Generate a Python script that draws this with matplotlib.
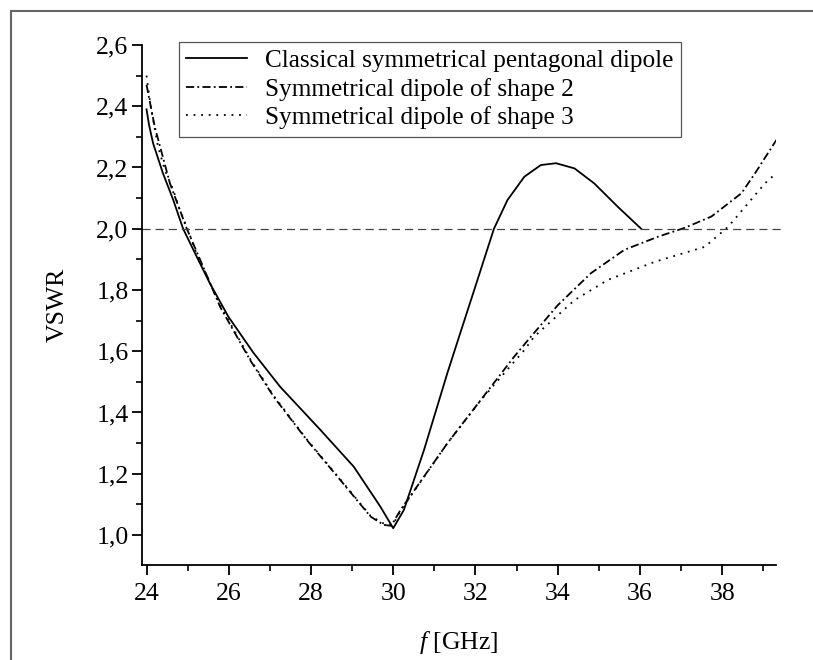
import matplotlib.pyplot as plt
from matplotlib.ticker import MultipleLocator, FuncFormatter
from matplotlib.lines import Line2D

plt.rcParams['font.family'] = 'Liberation Serif'
plt.rcParams['mathtext.fontset'] = 'custom'
plt.rcParams['mathtext.it'] = 'Liberation Serif:italic'
plt.rcParams['mathtext.rm'] = 'Liberation Serif'

# Classical symmetrical pentagonal dipole
f_classic = [24.0, 24.06, 24.16, 24.40, 24.65, 24.89, 25.22, 25.54, 25.99, 26.6,
             27.25, 28.23, 29.04, 29.69, 30.0, 30.26, 30.75, 31.32, 31.56, 31.97,
             32.45, 32.78, 33.19, 33.59, 33.96, 34.41, 34.89, 35.46, 36.03]
v_classic = [2.39, 2.34, 2.279, 2.181, 2.094, 2.0, 1.909, 1.822, 1.713, 1.595,
             1.484, 1.343, 1.223, 1.092, 1.022, 1.082, 1.278, 1.53, 1.63, 1.80,
             2.0, 2.094, 2.17, 2.208, 2.214, 2.197, 2.148, 2.072, 2.0]

# Symmetrical dipole of shape 2
f_shape2 = [24.0, 24.20, 24.57, 24.98, 25.3, 25.79, 26.52, 27.09, 27.90, 28.71,
            29.45, 29.77, 29.95, 30.18, 31.32, 32.13, 32.94, 33.27, 34.0, 34.81,
            35.62, 36.44, 37.09, 37.74, 38.47, 38.80, 39.32]
v_shape2 = [2.47, 2.333, 2.148, 2.0, 1.90, 1.745, 1.571, 1.452, 1.310, 1.180,
            1.06, 1.033, 1.03, 1.082, 1.30, 1.441, 1.582, 1.635, 1.75, 1.855,
            1.931, 1.974, 2.003, 2.04, 2.116, 2.181, 2.29]

# Symmetrical dipole of shape 3
f_shape3 = [24.0, 24.1, 24.28, 24.45, 24.65, 24.81, 25.01, 25.18, 25.79, 26.52,
            27.09, 27.90, 28.71, 29.45, 29.8, 30.0, 30.18, 31.32, 32.13, 33.19,
            33.43, 34.41, 35.22, 36.36, 37.58, 38.15, 38.63, 39.04, 39.35]
v_shape3 = [2.50, 2.40, 2.268, 2.19, 2.127, 2.061, 1.996, 1.931, 1.75, 1.575,
            1.455, 1.312, 1.182, 1.062, 1.035, 1.035, 1.08, 1.30, 1.44, 1.604,
            1.648, 1.767, 1.833, 1.892, 1.941, 2.007, 2.083, 2.148, 2.186]

labels = ['Classical symmetrical pentagonal dipole',
          'Symmetrical dipole of shape 2',
          'Symmetrical dipole of shape 3']
vswr_limit = 2.0

fig = plt.figure(figsize=(8.13, 6.6), dpi=100)
ax = fig.add_axes([142 / 813, 1 - 565 / 660, 634 / 813, 520 / 660])

lw = 1.3
ax.plot(f_classic, v_classic, color='black', lw=lw, label=labels[0])
ax.plot(f_shape2, v_shape2, color='black', lw=lw, dashes=(4.5, 1.8, 1.0, 1.8), label=labels[1])
ax.plot(f_shape3, v_shape3, color='black', lw=lw, dashes=(1.0, 3.2), label=labels[2])
ax.axhline(vswr_limit, xmin=0, xmax=1.011, color='#444444', lw=0.9,
           dashes=(6.5, 4), clip_on=False)

ax.set_xlim(23.89, 39.31)
ax.set_ylim(0.902, 2.6)
ax.spines['top'].set_visible(False)
ax.spines['right'].set_visible(False)
for s in ('left', 'bottom'):
    ax.spines[s].set_linewidth(1.3)

ax.xaxis.set_major_locator(MultipleLocator(2))
ax.xaxis.set_minor_locator(MultipleLocator(1))
ax.yaxis.set_major_locator(MultipleLocator(0.2))
ax.yaxis.set_minor_locator(MultipleLocator(0.1))
ax.yaxis.set_major_formatter(FuncFormatter(lambda y, _: f"{y:.1f}".replace('.', ',')))
ax.tick_params(which='major', direction='out', length=7.2, width=1.3, labelsize=18.5)
ax.tick_params(axis='x', which='major', pad=6)
ax.tick_params(axis='y', which='major', pad=2.5)
ax.tick_params(which='minor', direction='out', length=4.3, width=1.2)

ax.set_xlabel(r'$\mathit{f}$ [GHz]', fontsize=18.5, labelpad=17)
ax.set_ylabel('VSWR', fontsize=18.5, labelpad=20)

leg = ax.legend(loc='upper left', bbox_to_anchor=(0.058, 1.006), fontsize=18.2,
                frameon=True, fancybox=False, edgecolor='#555555', framealpha=1,
                handlelength=2.4, handletextpad=0.7, labelspacing=0.22,
                borderpad=0.3, borderaxespad=0)
leg.get_frame().set_linewidth(0.9)

# outer frame of the figure panel
fig.add_artist(Line2D([11 / 813, 11 / 813], [0, 1 - 11 / 660], color='#666666', lw=1.5))
fig.add_artist(Line2D([11 / 813, 1], [1 - 11 / 660, 1 - 11 / 660], color='#666666', lw=1.5))

fig.savefig('out.png', dpi=100)
